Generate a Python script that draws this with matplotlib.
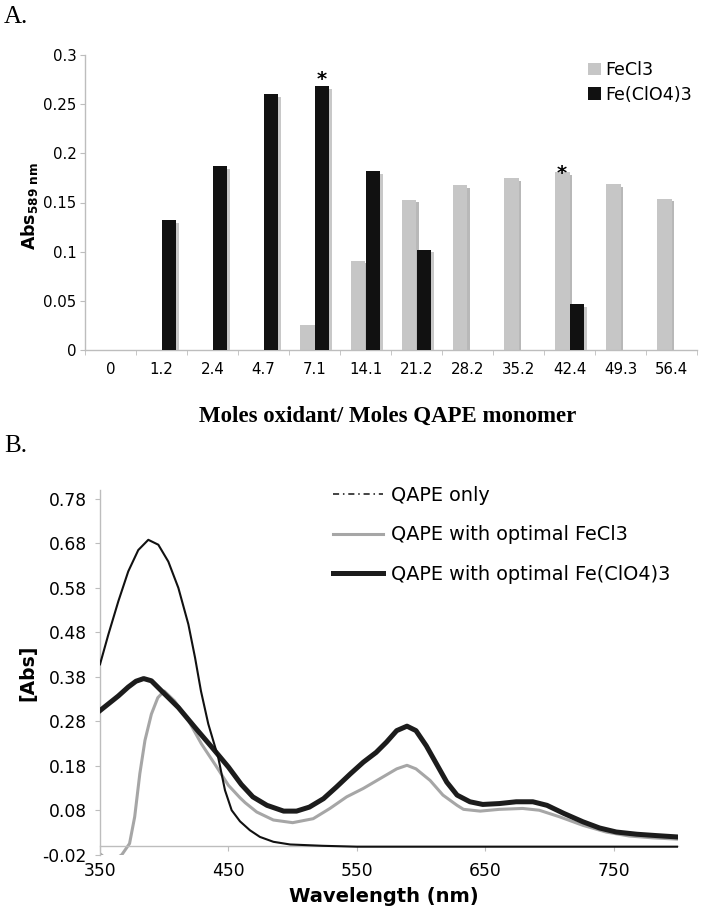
#python libraries
import numpy as np
import matplotlib
matplotlib.use("Agg")
import matplotlib.pyplot as plt
import matplotlib.patheffects as pe
from matplotlib.lines import Line2D
from matplotlib.patches import Patch


# constant values

OUT_FILE = "out.png"
AXIS_GREY = "#bdbdbd"
BAR_GREY = "#c6c6c6"
BAR_BLACK = "#111111"


# Panel A: absorbance at 589 nm per oxidant ratio

ratios = ["0", "1.2", "2.4", "4.7", "7.1", "14.1", "21.2", "28.2", "35.2", "42.4", "49.3", "56.4"]
fecl3_abs = [0, 0, 0, 0, 0.025, 0.091, 0.153, 0.168, 0.175, 0.181, 0.169, 0.154]
feclo4_abs = [0, 0.132, 0.187, 0.260, 0.268, 0.182, 0.102, 0, 0, 0.047, 0, 0]
# asterisks mark the optimal ratio of each oxidant
star_fecl3 = 9
star_feclo4 = 4

a_yticks = [0, 0.05, 0.1, 0.15, 0.2, 0.25, 0.3]
a_yticklabels = ["0", "0.05", "0.1", "0.15", "0.2", "0.25", "0.3"]


# Panel B: UV-vis spectra

wl_qape = [350, 356.5, 364.3, 372, 379.8, 387.6, 395.4, 403.2, 411, 418.8, 424, 428.6,
           434.3, 442, 447.3, 452.5, 459, 466.7, 474.5, 485, 498, 523.5, 550, 600,
           650, 700, 750, 800]
abs_qape = [0.408, 0.475, 0.550, 0.617, 0.665, 0.688, 0.677, 0.639, 0.580, 0.498, 0.423, 0.348,
            0.274, 0.199, 0.125, 0.080, 0.055, 0.035, 0.020, 0.009, 0.003, 0.000, -0.002, -0.002,
            -0.002, -0.002, -0.002, -0.002]

wl_fecl3 = [350, 355, 362, 367, 373, 377, 381, 385, 390, 395, 400, 408, 419, 429, 440, 450,
            459, 463, 472, 485, 500, 516, 529, 542, 555, 568, 581, 589, 596, 607, 617, 628,
            633, 646, 661, 679, 692, 708, 726, 744, 762, 780, 799]
abs_fecl3 = [-0.018, -0.03, -0.03, -0.02, 0.005, 0.065, 0.162, 0.237, 0.296, 0.333, 0.348, 0.326,
             0.281, 0.229, 0.181, 0.136, 0.108, 0.097, 0.076, 0.058, 0.052, 0.061, 0.084, 0.110,
             0.129, 0.151, 0.173, 0.181, 0.173, 0.147, 0.114, 0.091, 0.082, 0.078, 0.082, 0.084,
             0.080, 0.065, 0.046, 0.031, 0.022, 0.018, 0.015]

wl_feclo4 = [350, 356.5, 364.3, 372, 378, 384, 390, 398, 411, 424, 437, 450, 460, 469, 480,
             493, 503, 513, 524, 534, 545, 555, 565, 573, 581, 589, 596, 604, 612, 620, 628,
             638, 648, 661, 674, 687, 698, 711, 726, 739, 752, 768, 783, 799]
abs_feclo4 = [0.304, 0.319, 0.337, 0.357, 0.370, 0.376, 0.371, 0.348, 0.311, 0.266, 0.222, 0.177,
              0.138, 0.110, 0.091, 0.078, 0.078, 0.087, 0.106, 0.132, 0.162, 0.188, 0.210, 0.233,
              0.259, 0.269, 0.259, 0.225, 0.184, 0.143, 0.114, 0.099, 0.093, 0.095, 0.099, 0.099,
              0.091, 0.073, 0.054, 0.040, 0.031, 0.026, 0.023, 0.020]

b_xticks = [350, 450, 550, 650, 750]
b_yticks = [-0.02, 0.08, 0.18, 0.28, 0.38, 0.48, 0.58, 0.68, 0.78]
b_yticklabels = ["-0.02", "0.08", "0.18", "0.28", "0.38", "0.48", "0.58", "0.68", "0.78"]

series_labels = ["QAPE only", "QAPE with optimal FeCl3", "QAPE with optimal Fe(ClO4)3"]


def style_axis(ax):
    """ grey excel like spines, no box on top/right """
    for side in ["top", "right"]:
        ax.spines[side].set_visible(False)
    for side in ["left", "bottom"]:
        ax.spines[side].set_color(AXIS_GREY)
        ax.spines[side].set_linewidth(1.0)


def plots():
    """ draws both panels in one figure and saves it """

    plt.rcParams["font.family"] = "DejaVu Sans"
    plt.rcParams["mathtext.fontset"] = "dejavusans"

    W, H = 706, 908
    fig = plt.figure(figsize=(W / 100, H / 100), dpi=100)

    # ---------------- panel A: bar chart ----------------
    ax_a = fig.add_axes([85 / W, 1 - 350 / H, 612 / W, 295 / H])
    style_axis(ax_a)

    x = np.arange(len(ratios))
    w = 0.294
    off = 0.147
    shadow_k = [pe.SimplePatchShadow(offset=(2, -2), shadow_rgbFace="#c8c8c8", alpha=1), pe.Normal()]
    shadow_g = [pe.SimplePatchShadow(offset=(2, -2), shadow_rgbFace="#b8b8b8", alpha=1), pe.Normal()]

    bars_g = ax_a.bar(x - off, fecl3_abs, width=w, color=BAR_GREY, zorder=2)
    bars_k = ax_a.bar(x + off, feclo4_abs, width=w, color=BAR_BLACK, zorder=3)
    for b in bars_g:
        b.set_path_effects(shadow_g)
    for b in bars_k:
        b.set_path_effects(shadow_k)

    ax_a.text(x[star_feclo4] + off, feclo4_abs[star_feclo4] + 0.001, "*", ha="center", va="baseline",
              fontsize=14, fontweight="bold")
    ax_a.text(x[star_fecl3] - off, fecl3_abs[star_fecl3] - 0.007, "*", ha="center", va="baseline",
              fontsize=14, fontweight="bold")

    ax_a.set_xlim(-0.5, len(ratios) - 0.5)
    ax_a.set_ylim(0, 0.3)
    ax_a.set_xticks(x)
    ax_a.set_xticklabels(ratios)
    ax_a.set_xticks(np.arange(-0.5, len(ratios), 1), minor=True)
    ax_a.tick_params(axis="x", which="major", length=0, pad=9, labelsize=10.8)
    ax_a.tick_params(axis="x", which="minor", length=3.5, color=AXIS_GREY, direction="out")
    ax_a.set_yticks(a_yticks)
    ax_a.set_yticklabels(a_yticklabels)
    ax_a.tick_params(axis="y", length=3.5, color=AXIS_GREY, pad=2.5, labelsize=10.8)

    fig.legend(handles=[Patch(facecolor=BAR_GREY), Patch(facecolor=BAR_BLACK)],
               labels=["FeCl3", "Fe(ClO4)3"], loc="upper left",
               bbox_to_anchor=(588 / W, 1 - 61 / H), frameon=False, fontsize=12.6,
               handlelength=0.72, handleheight=0.72, handletextpad=0.25,
               labelspacing=0.38, borderpad=0, borderaxespad=0)

    fig.text(29 / W, 1 - 206 / H, r"$\mathbf{Abs}_{\mathbf{589\ nm}}$", rotation=90,
             ha="center", va="center", fontsize=12.5)
    fig.text(388 / W, 1 - 416 / H, "Moles oxidant/ Moles QAPE monomer", ha="center", va="center",
             fontsize=16.5, fontweight="bold", family="Liberation Serif")
    fig.text(4 / W, 1 - 17 / H, "A.", ha="left", va="center", fontsize=18, family="Liberation Serif")

    # ---------------- panel B: spectra ----------------
    ax_b = fig.add_axes([100 / W, 1 - 854.7 / H, 578 / W, 364.7 / H])
    style_axis(ax_b)
    # x axis crosses at zero like the excel original
    ax_b.spines["bottom"].set_position(("data", 0))

    ax_b.plot(wl_fecl3, abs_fecl3, color="#a6a6a6", lw=2.2, zorder=2)
    ax_b.plot(wl_feclo4, abs_feclo4, color="#1c1c1c", lw=3.6, zorder=3)
    ax_b.plot(wl_qape, abs_qape, color="#111111", lw=1.5, zorder=4)

    ax_b.set_xlim(350, 800)
    ax_b.set_ylim(-0.02, 0.80)
    ax_b.set_xticks(b_xticks)
    ax_b.set_yticks(b_yticks)
    ax_b.set_yticklabels(b_yticklabels)
    ax_b.tick_params(axis="x", length=3.5, color=AXIS_GREY, pad=8, labelsize=12.3)
    ax_b.tick_params(axis="y", length=3.5, color=AXIS_GREY, pad=6, labelsize=12.3)

    leg_handles = [Line2D([], [], color="#111111", lw=1.1, ls=(0, (4, 2.5, 1, 2.5))),
                   Line2D([], [], color="#a6a6a6", lw=2.2),
                   Line2D([], [], color="#1c1c1c", lw=3.6)]
    fig.legend(handles=leg_handles, labels=series_labels, loc="upper left",
               bbox_to_anchor=(333 / W, 1 - 486 / H), frameon=False, fontsize=13.9,
               handlelength=2.6, handletextpad=0.4, labelspacing=1.05,
               borderpad=0, borderaxespad=0)

    fig.text(28 / W, 1 - 673 / H, "[Abs]", rotation=90, ha="center", va="center",
             fontsize=13.5, fontweight="bold")
    fig.text(384 / W, 1 - 897 / H, "Wavelength (nm)", ha="center", va="center",
             fontsize=14, fontweight="bold")
    fig.text(4 / W, 1 - 446 / H, "B.", ha="left", va="center", fontsize=18, family="Liberation Serif")

    fig.savefig(OUT_FILE, dpi=100)


if __name__ == "__main__":

    plots()
